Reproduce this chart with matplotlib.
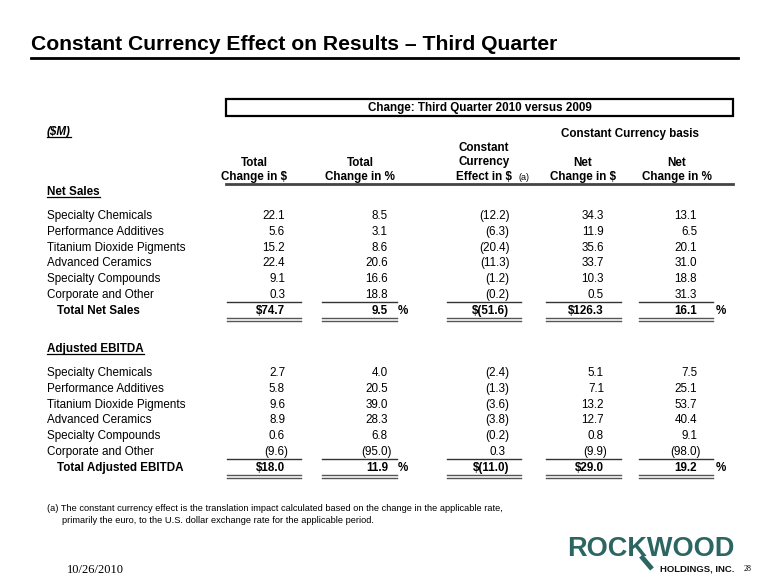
import matplotlib
matplotlib.use("Agg")
import matplotlib.pyplot as plt
from matplotlib.patches import Rectangle

plt.rcParams['font.family'] = ['Liberation Sans', 'DejaVu Sans']

# data
segments = ["Specialty Chemicals", "Performance Additives", "Titanium Dioxide Pigments",
            "Advanced Ceramics", "Specialty Compounds", "Corporate and Other"]

sales_total_usd = [22.1, 5.6, 15.2, 22.4, 9.1, 0.3]
sales_total_pct = [8.5, 3.1, 8.6, 20.6, 16.6, 18.8]
sales_fx = [-12.2, -6.3, -20.4, -11.3, -1.2, -0.2]
sales_net_usd = [34.3, 11.9, 35.6, 33.7, 10.3, 0.5]
sales_net_pct = [13.1, 6.5, 20.1, 31.0, 18.8, 31.3]
sales_totals = [74.7, 9.5, -51.6, 126.3, 16.1]

ebitda_total_usd = [2.7, 5.8, 9.6, 8.9, 0.6, -9.6]
ebitda_total_pct = [4.0, 20.5, 39.0, 28.3, 6.8, -95.0]
ebitda_fx = [-2.4, -1.3, -3.6, -3.8, -0.2, 0.3]
ebitda_net_usd = [5.1, 7.1, 13.2, 12.7, 0.8, -9.9]
ebitda_net_pct = [7.5, 25.1, 53.7, 40.4, 9.1, -98.0]
ebitda_totals = [18.0, 11.9, -11.0, 29.0, 19.2]

dollar_cols = [True, False, True, True, False]

fig = plt.figure(figsize=(7.8, 5.85), dpi=100)
ax = fig.add_axes([0, 0, 1, 1])
ax.set_xlim(0, 780)
ax.set_ylim(585, 0)
ax.axis('off')

fs = 8.4
col_right = [285, 388, 506, 604, 697]
rule_x = [(227, 301), (322, 397), (447, 521), (546, 621), (639, 713)]
paren = 3.5


def fmt(v, dollar=False):
    s = "%.1f" % abs(v)
    if v < 0:
        s = "(" + s + ")"
    if dollar:
        s = "$" + s
    return s


def put_num(x, y, v, dollar=False, bold=False):
    xx = x + paren if v < 0 else x
    ax.text(xx, y + 4, fmt(v, dollar), ha='right', va='baseline', fontsize=fs,
            fontweight='bold' if bold else 'normal')


def underlined(x, y, s, **kw):
    t = ax.text(x, y + 4, s, ha='left', va='baseline', fontsize=fs, fontweight='bold', **kw)
    fig.canvas.draw()
    bb = t.get_window_extent()
    inv = ax.transData.inverted()
    x0, _ = inv.transform((bb.x0, bb.y0))
    x1, _ = inv.transform((bb.x1, bb.y0))
    ax.plot([x0, x1], [y + 6, y + 6], color='black', lw=0.9)


# title
ax.text(31, 50, "Constant Currency Effect on Results \u2013 Third Quarter", ha='left', va='baseline',
        fontsize=15.2, fontweight='bold')
ax.plot([31, 738], [58, 58], color='black', lw=2)

# box header
ax.add_patch(Rectangle((226, 99), 507, 17, fill=False, ec='black', lw=1.6))
ax.text(480, 111.5, "Change: Third Quarter 2010 versus 2009", ha='center', va='baseline',
        fontsize=fs, fontweight='bold')

underlined(47, 131, "($M)", style='italic')
ax.text(630, 137, "Constant Currency basis", ha='center', va='baseline', fontsize=fs, fontweight='bold')

headers = [["Total", "Change in $"], ["Total", "Change in %"], ["Constant", "Currency", "Effect in $"],
           ["Net", "Change in $"], ["Net", "Change in %"]]
head_x = [254, 360, 484, 583, 677]
for hx, lines in zip(head_x, headers):
    for i, line in enumerate(reversed(lines)):
        ax.text(hx, 180 - i * 14.5, line, ha='center', va='baseline', fontsize=fs, fontweight='bold')
ax.text(524, 179.5, "(a)", ha='center', va='baseline', fontsize=6.5)
ax.plot([226, 733], [184, 184], color='#444444', lw=2)


def section(title, y0, rows, totals, total_label):
    underlined(47, y0, title)
    ys = [y0 + 24 + 15.8 * i for i in range(len(segments))]
    for i, name in enumerate(segments):
        ax.text(47, ys[i] + 4, name, ha='left', va='baseline', fontsize=fs)
        for c, col in enumerate(rows):
            put_num(col_right[c], ys[i], col[i])
    ty = ys[-1] + 16
    ax.text(57, ty + 4, total_label, ha='left', va='baseline', fontsize=fs, fontweight='bold')
    for c, v in enumerate(totals):
        put_num(col_right[c], ty, v, dollar=dollar_cols[c], bold=True)
    for x0, x1 in rule_x:
        ax.plot([x0, x1], [ty - 8.5, ty - 8.5], color='#333333', lw=1)
        ax.plot([x0, x1], [ty + 8, ty + 8], color='#555555', lw=1)
        ax.plot([x0, x1], [ty + 10.5, ty + 10.5], color='#555555', lw=1)
    ax.text(403, ty + 4, "%", ha='center', va='baseline', fontsize=fs, fontweight='bold')
    ax.text(721, ty + 4, "%", ha='center', va='baseline', fontsize=fs, fontweight='bold')


section("Net Sales", 191,
        [sales_total_usd, sales_total_pct, sales_fx, sales_net_usd, sales_net_pct],
        sales_totals, "Total Net Sales")
section("Adjusted EBITDA", 348,
        [ebitda_total_usd, ebitda_total_pct, ebitda_fx, ebitda_net_usd, ebitda_net_pct],
        ebitda_totals, "Total Adjusted EBITDA")

# footnote
ax.text(47, 511, "(a) The constant currency effect is the translation impact calculated based on the "
        "change in the applicable rate,", ha='left', va='baseline', fontsize=6.65)
ax.text(62, 523, "primarily the euro, to the U.S. dollar exchange rate for the applicable period.",
        ha='left', va='baseline', fontsize=6.65)

# footer
ax.text(95, 573, "10/26/2010", ha='center', va='baseline', fontsize=9, family='Liberation Serif')
ax.text(748, 571, "28", ha='center', va='baseline', fontsize=5.8, family='Liberation Serif')

# logo
teal = '#2b6663'
ax.plot([641, 652], [556, 569], color=teal, lw=3.5, solid_capstyle='butt')
ax.text(650.5, 556, "ROCKWOOD", ha='center', va='baseline', fontsize=19.5, fontweight='heavy', color=teal)
ax.text(697, 571.5, "HOLDINGS, INC.", ha='center', va='baseline', fontsize=6.8, fontweight='bold',
        color='#111111')

fig.savefig("out.png", dpi=100)
